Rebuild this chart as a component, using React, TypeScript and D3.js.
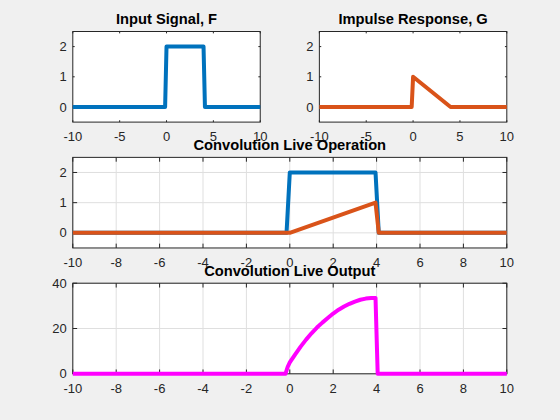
import React from 'react';
import * as d3 from 'd3';

// input signal F (rectangular pulse)
const fT = [-10, -0.15, 0, 3.95, 4.1, 10];
const fV = [0, 0, 2, 2, 0, 0];

// impulse response G (decaying ramp)
const gT = [-10, -0.15, 0, 4, 10];
const gV = [0, 0, 1, 0, 0];

// G flipped and shifted to the current time
const gShiftT = [-10, 0, 3.95, 4.1, 10];
const gShiftV = [0, 0, 1, 0, 0];

// running convolution output
const outT = [-10, -0.2, -0.1, 0, 0.25, 0.5, 0.75, 1, 1.25, 1.5, 1.75, 2, 2.25, 2.5, 2.75, 3, 3.25, 3.5, 3.75, 3.95, 4.05, 10];
const outV = [0, 0, 3, 5, 8.6, 12, 15.1, 17.9, 20.4, 22.6, 24.6, 26.6, 28.3, 29.7, 30.9, 31.9, 32.7, 33.2, 33.5, 33.5, 0, 0];

const coarseXTicks = [-10, -5, 0, 5, 10];
const fineXTicks = [-10, -8, -6, -4, -2, 0, 2, 4, 6, 8, 10];
const levelTicks = [0, 1, 2];
const outTicks = [0, 20, 40];

const W = 560;
const H = 420;
const FONT = '"Liberation Sans", Arial, Helvetica, sans-serif';
const AX = '#262626';
const BLUE = '#0072BD';
const ORANGE = '#D95319';
const MAGENTA = '#FF00FF';

type Series = { t: number[]; v: number[]; color: string };

type PanelProps = {
  left: number;
  top: number;
  width: number;
  height: number;
  yDomain: [number, number];
  xTicks: number[];
  yTicks: number[];
  grid: boolean;
  title: string;
  series: Series[];
};

function Panel({ left, top, width, height, yDomain, xTicks, yTicks, grid, title, series }: PanelProps) {
  const x = d3.scaleLinear().domain([-10, 10]).range([left, left + width]);
  const y = d3.scaleLinear().domain(yDomain).range([top + height, top]);
  const tickLen = 0.01 * Math.max(width, height);
  const bottom = top + height;
  const right = left + width;

  return (
    <g>
      <rect x={left} y={top} width={width} height={height} fill="#fff" />
      {grid && (
        <g stroke="#dfdfdf" strokeWidth={1}>
          {xTicks.map((t) => (
            <line key={'gx' + t} x1={x(t)} x2={x(t)} y1={top} y2={bottom} />
          ))}
          {yTicks.map((t) => (
            <line key={'gy' + t} x1={left} x2={right} y1={y(t)} y2={y(t)} />
          ))}
        </g>
      )}
      <g stroke={AX} strokeWidth={1}>
        {xTicks.map((t) => (
          <g key={'tx' + t}>
            <line x1={x(t)} x2={x(t)} y1={bottom} y2={bottom - tickLen} />
            <line x1={x(t)} x2={x(t)} y1={top} y2={top + tickLen} />
          </g>
        ))}
        {yTicks.map((t) => (
          <g key={'ty' + t}>
            <line x1={left} x2={left + tickLen} y1={y(t)} y2={y(t)} />
            <line x1={right} x2={right - tickLen} y1={y(t)} y2={y(t)} />
          </g>
        ))}
      </g>
      <rect x={left} y={top} width={width} height={height} fill="none" stroke={AX} strokeWidth={1} />
      {series.map((s, i) => {
        const pts = s.t.map((t, k) => [t, s.v[k]] as [number, number]);
        const path = d3
          .line<[number, number]>()
          .x((d) => x(d[0]))
          .y((d) => y(d[1]))(pts);
        return <path key={i} d={path ?? ''} fill="none" stroke={s.color} strokeWidth={4} strokeLinejoin="round" />;
      })}
      <g fontFamily={FONT} fontSize={13} fill={AX}>
        {xTicks.map((t) => (
          <text key={'lx' + t} x={x(t)} y={bottom + 19} textAnchor="middle">
            {String(t)}
          </text>
        ))}
        {yTicks.map((t) => (
          <text key={'ly' + t} x={left - 6} y={y(t)} dy="0.35em" textAnchor="end">
            {String(t)}
          </text>
        ))}
      </g>
      <text
        x={left + width / 2}
        y={top - 7.5}
        textAnchor="middle"
        fontFamily={FONT}
        fontSize={14.7}
        fontWeight="bold"
        fill="#000"
      >
        {title}
      </text>
    </g>
  );
}

export default function App() {
  // subplot(3,2,...) positions in pixels
  const leftA = 0.13 * W;
  const leftB = 0.5703 * W;
  const narrow = 0.3347 * W;
  const wide = (0.5703 + 0.3347 - 0.13) * W;
  const ph = 0.2157 * H;
  const rowTop = (b: number) => H - (b * H + ph);

  return (
    <svg width={W} height={H} style={{ position: 'absolute', left: 0, top: 0 }}>
      <rect width={W} height={H} fill="#f0f0f0" />
      <Panel
        left={leftA}
        top={rowTop(0.7093)}
        width={narrow}
        height={ph}
        yDomain={[-0.5, 2.5]}
        xTicks={coarseXTicks}
        yTicks={levelTicks}
        grid={false}
        title="Input Signal, F"
        series={[{ t: fT, v: fV, color: BLUE }]}
      />
      <Panel
        left={leftB}
        top={rowTop(0.7093)}
        width={narrow}
        height={ph}
        yDomain={[-0.5, 2.5]}
        xTicks={coarseXTicks}
        yTicks={levelTicks}
        grid={false}
        title="Impulse Response, G"
        series={[{ t: gT, v: gV, color: ORANGE }]}
      />
      <Panel
        left={leftA}
        top={rowTop(0.4096)}
        width={wide}
        height={ph}
        yDomain={[-0.5, 2.5]}
        xTicks={fineXTicks}
        yTicks={levelTicks}
        grid={true}
        title="Convolution Live Operation"
        series={[
          { t: fT, v: fV, color: BLUE },
          { t: gShiftT, v: gShiftV, color: ORANGE },
        ]}
      />
      <Panel
        left={leftA}
        top={rowTop(0.11)}
        width={wide}
        height={ph}
        yDomain={[0, 40]}
        xTicks={fineXTicks}
        yTicks={outTicks}
        grid={true}
        title="Convolution Live Output"
        series={[{ t: outT, v: outV, color: MAGENTA }]}
      />
    </svg>
  );
}
